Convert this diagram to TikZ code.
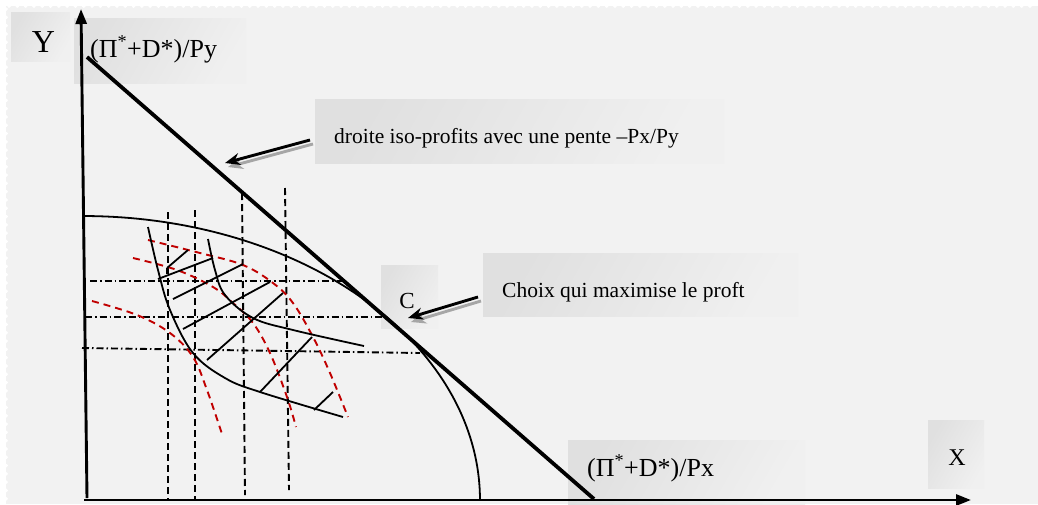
\documentclass[tikz,border=0pt]{standalone}
\usepackage{fontspec}
\setmainfont{Liberation Serif}
\usetikzlibrary{arrows.meta}
\definecolor{bg}{HTML}{F2F2F2}
\definecolor{boxdark}{HTML}{E0E0E0}
\definecolor{boxlight}{HTML}{F0F0F0}
\definecolor{dred}{HTML}{C00000}
\tikzset{
  lbox/.style={draw=none, inner sep=0, anchor=north west, left color=boxdark, right color=boxlight, shading angle=60},
  lbl/.style={inner sep=0, anchor=base west},
  axis/.style={line width=2.9pt, -{Triangle[length=15pt,width=11pt]}},
  isoline/.style={line width=3.8pt},
  thincurve/.style={line width=1.8pt},
  vdash/.style={line width=1.9pt, dash pattern=on 7pt off 4pt},
  hdashdot/.style={line width=1.9pt, dash pattern=on 7pt off 3pt on 1.5pt off 3pt},
  rdash/.style={dred, line width=1.9pt, dash pattern=on 7pt off 5pt},
  hatch/.style={line width=1.8pt},
  callout/.style={line width=2.9pt, -{Stealth[length=15pt,width=12pt]}},
  shadow/.style={line width=2.9pt, black!35, -{Stealth[length=15pt,width=12pt]}},
}
\begin{document}
\begin{tikzpicture}[x=1pt,y=-1pt]
\useasboundingbox (0,0) rectangle (1038,504);
% background with scalloped edge
\fill[white] (0,0) rectangle (1038,504);
\fill[bg] (6,6) rectangle (1038,504);
\draw[white, line width=3.5pt, line cap=round, dash pattern=on 0.1pt off 8.2pt] (9,6.5) -- (1038,6.5);
\draw[white, line width=3.5pt, line cap=round, dash pattern=on 0.1pt off 8.2pt] (6.5,9) -- (6.5,504);

% label boxes
\node[lbox, minimum width=59pt, minimum height=49pt] (ybox) at (11,12) {};
\node[lbox, minimum width=172pt, minimum height=65pt] (pybox) at (74,18) {};
\node[lbox, minimum width=409pt, minimum height=64pt] (isobox) at (315,99) {};
\node[lbox, minimum width=57pt, minimum height=63pt] (cbox) at (381,265) {};
\node[lbox, minimum width=315pt, minimum height=63pt] (choixbox) at (483,253) {};
\node[lbox, minimum width=237pt, minimum height=64pt] (pxbox) at (568,440) {};
\node[lbox, minimum width=56pt, minimum height=68pt] (xbox) at (928,420) {};

% axes
\coordinate (O) at (86,500);
\coordinate (Ytop) at (81,9);
\coordinate (Xend) at (971,500);
\draw[axis] (87,498) -- (Ytop);
\draw[axis] (84,500) -- (Xend);

% grid lines (vertical dashed)
\draw[vdash] (168,212) -- (168,500);
\draw[vdash] (195,210) -- (195,500);
\draw[vdash] (242,193) -- (245,495);
\draw[vdash] (285,188) -- (289,490);
% horizontal dash-dot
\draw[hdashdot] (90,281) -- (343,281);
\draw[hdashdot] (85,317) -- (383,317);
\draw[hdashdot] (82,348) -- (420,353);

% production frontier
\draw[thincurve] plot[domain=90:0, samples=80, variable=\t] ({83+397*cos(\t)},{500-284*sin(\t)});

% iso-profit line
\coordinate (isoA) at (87,57);
\coordinate (isoB) at (594,499);
\draw[isoline] (isoA) -- (isoB);

% red dashed curves
\draw[rdash] plot[smooth, tension=0.6] coordinates {(148,240) (200,253) (243,265) (273,283) (293,303) (313,337) (330,373) (348,417)};
\draw[rdash] plot[smooth, tension=0.6] coordinates {(133,258) (177,270) (213,287) (233,303) (253,323) (270,353) (287,397) (296,427)};
\draw[rdash] plot[smooth, tension=0.6] coordinates {(92,301) (137,315) (170,333) (193,357) (207,390) (223,437)};

% black curves
\draw[thincurve] plot[smooth, tension=0.6] coordinates {(148,227) (158,270) (170,310) (193,353) (225,378) (260,392) (343,417)};
\draw[thincurve] plot[smooth, tension=0.6] coordinates {(208,239) (215,270) (225,295) (253,318) (293,330) (364,346)};

% hatching
\draw[hatch] (167,268) -- (188,250);
\draw[hatch] (167,268) -- (167,274);
\draw[hatch] (158,279) -- (213,258);
\draw[hatch] (173,299) -- (243,264);
\draw[hatch] (183,329) -- (270,282);
\draw[hatch] (207,360) -- (283,293);
\draw[hatch] (260,392) -- (312,337);
\draw[hatch] (314,410) -- (333,392);

% texts
\node[inner sep=0, anchor=base] (ylab) at (43.5,52) {\fontsize{32}{36}\selectfont Y};
\node[lbl] (pylab) at (90,57) {\fontsize{26}{30}\selectfont (Π\textsuperscript{*}+D*)/Py};
\node[lbl] (isolab) at (334,143) {\fontsize{21.5}{25}\selectfont droite iso-profits avec une pente –Px/Py};
\node[inner sep=0, anchor=base] (clab) at (407,308) {\fontsize{23}{27}\selectfont C};
\node[lbl] (choixlab) at (502,297) {\fontsize{21.5}{25}\selectfont Choix qui maximise le proft};
\node[lbl] (pxlab) at (587,476) {\fontsize{26}{30}\selectfont (Π\textsuperscript{*}+D*)/Px};
\node[inner sep=0, anchor=base] (xlab) at (957,465) {\fontsize{24}{28}\selectfont X};

% callout arrows
\coordinate (a1s) at (310,140);
\coordinate (a1e) at (225,163);
\coordinate (a2s) at (478,297);
\coordinate (a2e) at (408,318);
\draw[shadow] ([shift={(3,4)}]a1s) -- ([shift={(3,4)}]a1e);
\draw[callout] (a1s) -- (a1e);
\draw[shadow] ([shift={(3,4)}]a2s) -- ([shift={(3,4)}]a2e);
\draw[callout] (a2s) -- (a2e);
\end{tikzpicture}
\end{document}
